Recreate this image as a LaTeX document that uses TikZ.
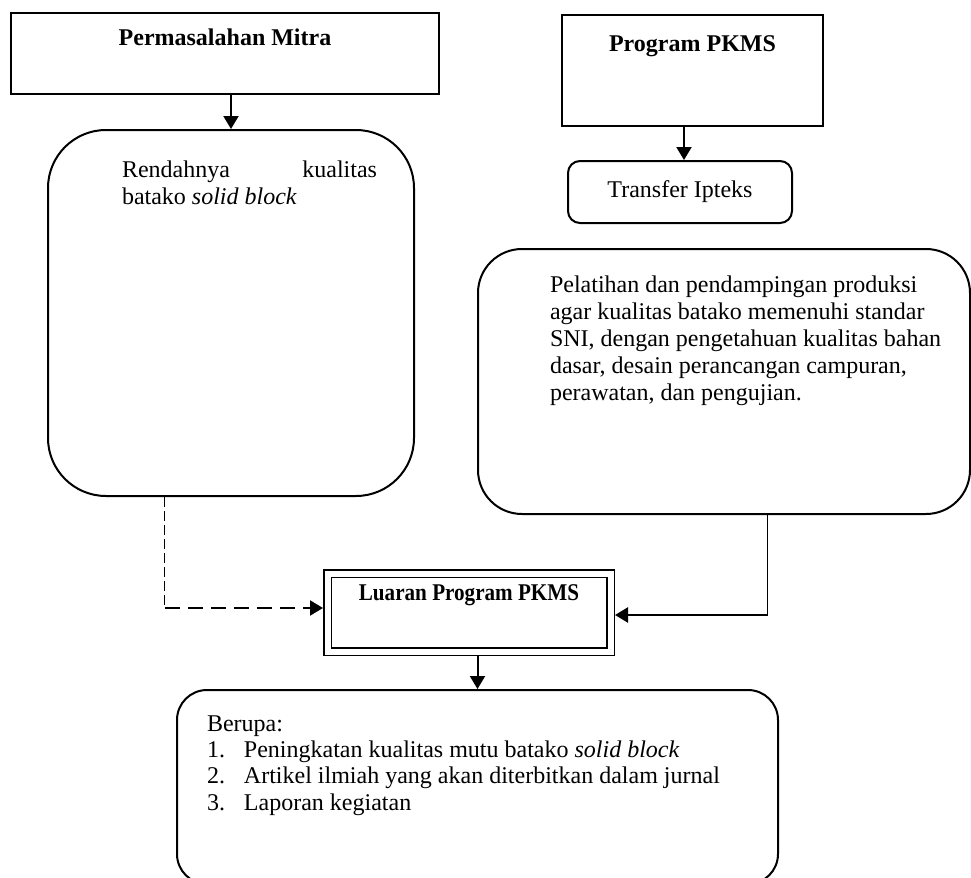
\documentclass[tikz,border=0pt]{standalone}
\usepackage{graphicx}
\usepackage{fontspec}
\setmainfont{Liberation Serif}
\usetikzlibrary{arrows.meta,calc}

\begin{document}
\begin{tikzpicture}[>={Triangle[length=6.5pt,width=7.5pt]}, x=0.5pt, y=-0.5pt]
      \tikzstyle{every node}=[font=\fontsize{12}{13.8}\selectfont, inner sep=0pt]
      \tikzstyle{sqbox}=[draw, line width=1pt]
      \tikzstyle{rbox}=[draw, line width=1pt]
      \tikzstyle{dbox}=[draw, double, line width=0.75pt, double distance=3pt, outer sep=2.25pt]
      \tikzstyle{conn}=[->, line width=1pt]
      \useasboundingbox (0,0) rectangle (971,878);

%%
\node (mitra) at (225,53.5) [sqbox] {\parbox[c][40.5pt][t]{214pt}{\centering\vspace*{6.8pt}\strut\textbf{Permasalahan Mitra}}};
  \node (rendah) at (231,313) [rbox, rounded corners=29pt] {\parbox[c][183pt][t]{183pt}{\vspace*{14.3pt}\leftskip=37pt\rightskip=18.5pt\tolerance=10000\hyphenpenalty=10000\fontsize{12}{13.5}\selectfont\strut Rendahnya kualitas\linebreak batako \textit{solid block}\par}};
  \node (prog) at (692.5,70.5) [sqbox] {\parbox[c][55.5pt][t]{130.5pt}{\centering\vspace*{8.8pt}\strut\textbf{Program PKMS}}};
  \node (trans) at (680,192) [rbox, rounded corners=6pt, minimum width=112pt, minimum height=31pt] {Transfer Ipteks};
  \node (latih) at (724,381.5) [rbox, rounded corners=22pt] {\parbox[c][132.5pt][t]{246pt}{\vspace*{12.3pt}\raggedright\leftskip=36pt\fontsize{12}{13.5}\selectfont\strut Pelatihan dan pendampingan produksi\\ agar kualitas batako memenuhi standar\\ SNI, dengan pengetahuan kualitas bahan\\ dasar, desain perancangan campuran,\\ perawatan, dan pengujian.}};
  \node (luaran) at (469,612.5) [dbox] {\parbox[c][39pt][t]{141.5pt}{\centering\vspace*{3.6pt}\strut\textbf{\scalebox{0.88}[1]{Luaran Program PKMS}}}};
  \node (hasil) at (477.5,787) [rbox, rounded corners=15pt] {\parbox[c][97pt][t]{300.5pt}{\vspace*{11.3pt}\raggedright\leftskip=15pt\fontsize{12}{13.2}\selectfont\strut Berupa:\\ \makebox[18.5pt][l]{1.}Peningkatan kualitas mutu batako \textit{solid block}\\ \makebox[18.5pt][l]{2.}Artikel ilmiah yang akan diterbitkan dalam jurnal\\ \makebox[18.5pt][l]{3.}Laporan kegiatan}};
  \coordinate (tt) at ($(trans.north)+(4,0)$);
  \coordinate (lfoot) at ($(rendah.south west)!0.32!(rendah.south east)$);
  \coordinate (lin) at ($(luaran.west)+(0,-4.5)$);
  \coordinate (rfoot) at ($(latih.south west)!0.589!(latih.south east)$);
  \coordinate (rin) at ($(luaran.east)+(0,2.5)$);
  \draw [conn] (rendah.north |- mitra.south) -- (rendah.north);
  \draw [conn] (tt |- prog.south) -- (tt);
  \draw [line width=0.5pt, dash pattern=on 5pt off 2pt] (lfoot) -- (lfoot |- lin);
  \draw [conn, dash pattern=on 7.5pt off 4pt] (lfoot |- lin) -- (lin);
  \draw [line width=0.5pt] (rfoot) -- (rfoot |- rin);
  \draw [conn, line width=1.2pt] (rfoot |- rin) -- (rin);
  \draw [conn] (hasil.north |- luaran.south) -- (hasil.north);
%

    \end{tikzpicture}
\end{document}
